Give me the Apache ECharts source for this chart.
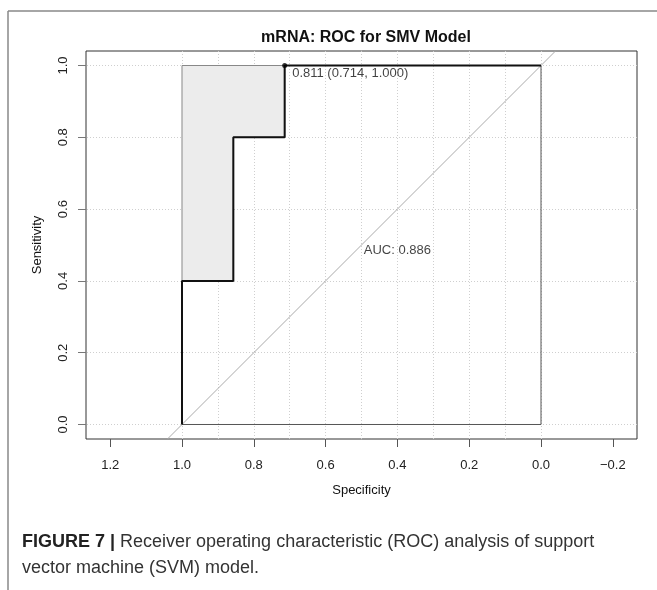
<!DOCTYPE html>
<html>
<head>
<meta charset="utf-8">
<script src="https://cdn.jsdelivr.net/npm/echarts@6/dist/echarts.min.js"></script>
<style>
  html, body { margin: 0; padding: 0; background: #fff; }
  #chart { width: 657px; height: 590px; }
</style>
</head>
<body>
<div id="chart"></div>
<script>
// ROC curve points (specificity on x, reversed; sensitivity on y)
const specificity = [1, 1, 0.857, 0.857, 0.714, 0.714, 0];
const sensitivity = [0, 0.4, 0.4, 0.8, 0.8, 1, 1];
// upper bound of the sensitivity CI over the shaded part
const ciSpec = [1, 0.714];
const ciSeUpper = [1, 1];
// best threshold
const bestThreshold = 0.811;
const bestSpec = 0.714;
const bestSens = 1.0;
const auc = 0.886;
// tick labels
const xTicks = [1.2, 1.0, 0.8, 0.6, 0.4, 0.2, 0.0, -0.2];
const yTicks = [0, 0.2, 0.4, 0.6, 0.8, 1.0];
const vGrid = [0, 0.1, 0.2, 0.3, 0.4, 0.5, 0.6, 0.7, 0.8, 0.9, 1.0];
const hGrid = [0, 0.2, 0.4, 0.6, 0.8, 1.0];

const xMin = -0.2674, xMax = 1.2674;
const yMin = -0.0404, yMax = 1.0404;

const font = '"Liberation Sans", Arial, sans-serif';

const curve = specificity.map((s, i) => [s, sensitivity[i]]);
// shaded band: CI upper bound then back along the curve
const shade = ciSpec.map((s, i) => [s, ciSeUpper[i]]);
curve.slice().reverse().forEach(p => {
  if (p[0] >= bestSpec && p[1] >= 0.4) shade.push(p);
});

const chart = echarts.init(document.getElementById('chart'));
chart.setOption({
  animation: false,
  title: {
    text: 'mRNA: ROC for SMV Model',
    left: 361,
    textAlign: 'center',
    top: 25,
    textStyle: { fontFamily: font, fontSize: 16, fontWeight: 'bold', color: '#111' }
  },
  grid: {
    left: 86, top: 51, width: 551, height: 388,
    show: true, borderColor: '#333', borderWidth: 1, backgroundColor: 'transparent'
  },
  xAxis: {
    type: 'value', inverse: true, min: xMin, max: xMax,
    name: 'Specificity', nameLocation: 'middle', nameGap: 45,
    nameTextStyle: { fontFamily: font, fontSize: 13, color: '#111' },
    axisLine: { show: false, onZero: false },
    axisTick: { show: true, inside: false, length: 8, customValues: xTicks, lineStyle: { color: '#555' } },
    axisLabel: {
      customValues: xTicks, margin: 20,
      fontFamily: font, fontSize: 13, color: '#222',
      formatter: v => v < 0 ? '\u2212' + Math.abs(v).toFixed(1) : v.toFixed(1)
    },
    splitLine: { show: false }
  },
  yAxis: {
    type: 'value', min: yMin, max: yMax,
    name: 'Sensitivity', nameLocation: 'middle', nameGap: 42,
    nameTextStyle: { fontFamily: font, fontSize: 13, color: '#111' },
    axisLine: { show: false, onZero: false },
    axisTick: { show: true, inside: false, length: 8, customValues: yTicks, lineStyle: { color: '#777' } },
    axisLabel: {
      customValues: yTicks, rotate: 90, margin: 16,
      fontFamily: font, fontSize: 13, color: '#222',
      formatter: v => v.toFixed(1)
    },
    splitLine: { show: false }
  },
  graphic: [
    { type: 'line', shape: { x1: 8, y1: 11, x2: 657, y2: 11 }, style: { stroke: '#888', lineWidth: 1.5 } },
    { type: 'line', shape: { x1: 8, y1: 11, x2: 8, y2: 590 }, style: { stroke: '#888', lineWidth: 1.5 } },
    {
      type: 'text', left: 22, top: 529,
      style: {
        text: '{b|FIGURE 7 |} Receiver operating characteristic (ROC) analysis of support\nvector machine (SVM) model.',
        font: '18px ' + font, fill: '#333', lineHeight: 26,
        rich: { b: { fontWeight: 'bold', fontSize: 18, fontFamily: font, fill: '#222' } }
      }
    }
  ],
  series: [
    {
      // grid lines, kept under everything else
      type: 'line', data: [], silent: true, z: 0,
      markLine: {
        silent: true, symbol: 'none', label: { show: false }, z: 0,
        lineStyle: { color: '#cfcfcf', type: [1, 2], width: 1 },
        data: vGrid.map(v => ({ xAxis: v })).concat(hGrid.map(v => ({ yAxis: v })))
      }
    },
    {
      // diagonal chance line, spans the whole plot region
      type: 'line', silent: true, symbol: 'none', z: 1,
      data: [[1 - yMin, yMin], [1 - yMax, yMax]],
      lineStyle: { color: '#aaa', width: 1 }
    },
    {
      // shaded CI band
      type: 'custom', silent: true, z: 2,
      data: [0],
      renderItem: (params, api) => ({
        type: 'polygon',
        shape: { points: shade.map(p => api.coord(p)) },
        style: { fill: '#ececec', stroke: '#888', lineWidth: 1 }
      })
    },
    {
      // box edge at sensitivity 0 / specificity 0
      type: 'line', silent: true, symbol: 'none', z: 3,
      data: [[1, 0], [0, 0], [0, 1]],
      lineStyle: { color: '#555', width: 1 }
    },
    {
      type: 'line', silent: true, symbol: 'none', z: 4,
      data: curve,
      lineStyle: { color: '#111', width: 2 }
    },
    {
      type: 'scatter', silent: true, symbol: 'circle', symbolSize: 5, z: 5,
      itemStyle: { color: '#000' },
      data: [[bestSpec, bestSens]],
      label: {
        show: true, position: 'right', offset: [0, 8],
        fontFamily: font, fontSize: 13, color: '#111',
        formatter: () => bestThreshold.toFixed(3) + ' (' + bestSpec.toFixed(3) + ', ' + bestSens.toFixed(3) + ')'
      }
    },
    {
      type: 'scatter', silent: true, symbolSize: 0, z: 5,
      data: [[0.4, 0.485]],
      label: {
        show: true, position: 'inside',
        fontFamily: font, fontSize: 13, color: '#111',
        formatter: () => 'AUC: ' + auc.toFixed(3)
      }
    }
  ]
});
</script>
</body>
</html>
